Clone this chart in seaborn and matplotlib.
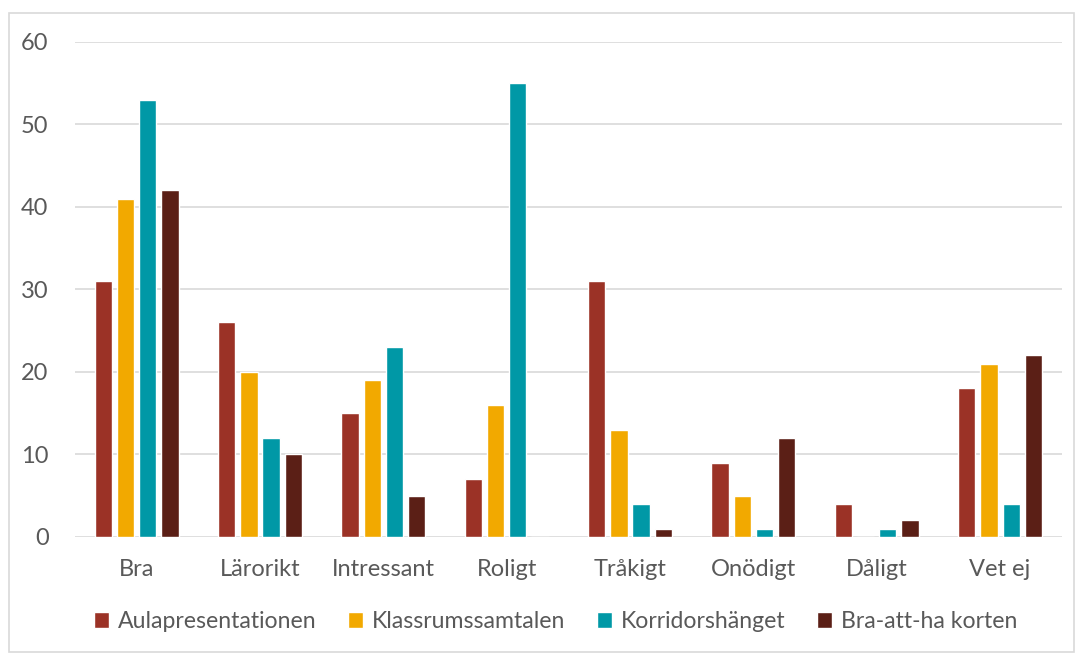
import pandas as pd
import seaborn as sns
import matplotlib.pyplot as plt
from matplotlib.patches import Rectangle

categories = ["Bra", "Lärorikt", "Intressant", "Roligt", "Tråkigt", "Onödigt", "Dåligt", "Vet ej"]
aula = [31, 26, 15, 7, 31, 9, 4, 18]
klassrum = [41, 20, 19, 16, 13, 5, 0, 21]
korridor = [53, 12, 23, 55, 4, 1, 1, 4]
braatt = [42, 10, 5, 0, 1, 12, 2, 22]
series = ["Aulapresentationen", "Klassrumssamtalen", "Korridorshänget", "Bra-att-ha korten"]
colors = ["#9B3226", "#F2A900", "#0098A6", "#5B1F16"]

rows = []
for name, vals in zip(series, [aula, klassrum, korridor, braatt]):
    for cat, v in zip(categories, vals):
        rows.append({"kategori": cat, "serie": name, "antal": v})
df = pd.DataFrame(rows)

sns.set_style("white")
plt.rcParams['font.family'] = ['Lato', 'DejaVu Sans']
text_color = "#595959"

fig = plt.figure(figsize=(10.79, 6.53), dpi=100)
ax = fig.add_axes([0.0695, 0.1777, 0.9145, 0.758])

sns.barplot(data=df, x="kategori", y="antal", hue="serie", order=categories,
            hue_order=series, palette=colors, width=0.72, gap=0.22,
            saturation=1, ax=ax, legend=True)

ax.set_ylim(0, 60)
ax.set_xlim(-0.5, 7.5)
ax.set_yticks(range(0, 61, 10))
ax.yaxis.grid(True, color="#D9D9D9", linewidth=1.2)
ax.set_axisbelow(True)
for s in ax.spines.values():
    s.set_visible(False)
ax.tick_params(axis="both", length=0, labelsize=17, colors=text_color)
ax.tick_params(axis="x", pad=16)
ax.tick_params(axis="y", pad=19)
ax.set_xlabel("")
ax.set_ylabel("")

handles, labels = ax.get_legend_handles_labels()
ax.get_legend().remove()
fig.legend(handles, labels, loc="center", bbox_to_anchor=(0.515, 0.048), ncol=4,
           frameon=False, fontsize=16.6, labelcolor=text_color,
           handlelength=0.65, handleheight=0.65, handletextpad=0.4, columnspacing=1.35)

fig.patches.append(Rectangle((9 / 1079, 0.002), 1065 / 1079, 1 - 13 / 653 - 0.002,
                             transform=fig.transFigure, fill=False,
                             edgecolor="#D9D9D9", linewidth=1.2))

fig.savefig("out.png", dpi=100)
